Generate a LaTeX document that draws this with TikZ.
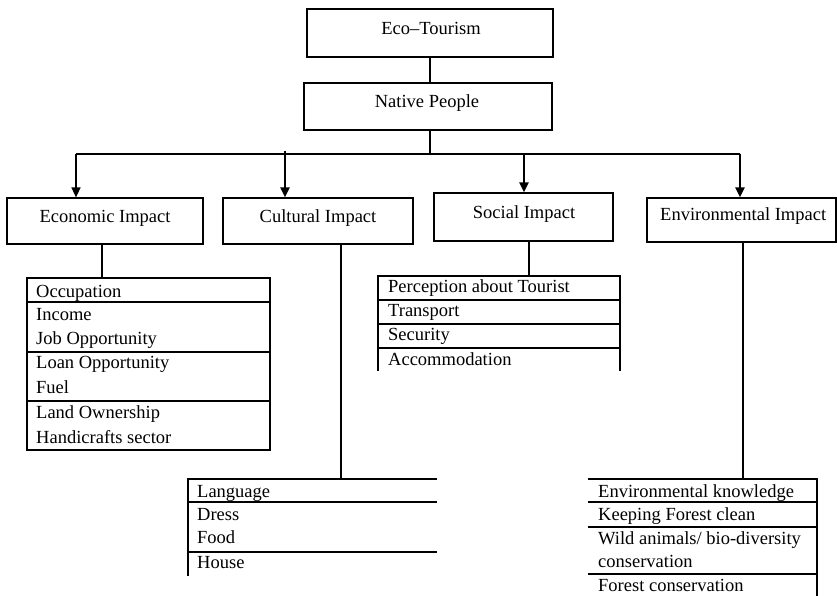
\documentclass[tikz,border=0pt]{standalone}
\usepackage{fontspec}
\setmainfont{Liberation Serif}
\usetikzlibrary{arrows.meta}
\begin{document}
\begin{tikzpicture}[x=1pt,y=-1pt,
  box/.style={draw,line width=1.2pt,rectangle,inner sep=0pt},
  txt/.style={inner sep=0pt,font=\fontsize{18.5}{22}\selectfont},
  ln/.style={line width=1.2pt},
  arr/.style={line width=2.2pt,-{Triangle[length=10pt,width=9pt]}},
  arrthin/.style={line width=1.4pt,-{Triangle[length=10pt,width=9pt]}}]
\useasboundingbox (0,0) rectangle (837,596);
% header boxes
\node[box,minimum width=246pt,minimum height=48pt] (eco) at (430,33) {};
\node[txt,anchor=base] (ecot) at (431,35) {Eco–Tourism};
\node[box,minimum width=248pt,minimum height=47pt] (nat) at (428,106.5) {};
\node[txt,anchor=base] (natt) at (427,108) {Native People};
\node[box,minimum width=196pt,minimum height=46pt] (econ) at (105,221) {};
\node[txt,anchor=base] (econt) at (105,222) {Economic Impact};
\node[box,minimum width=190pt,minimum height=46pt] (cult) at (318,221) {};
\node[txt,anchor=base] (cultt) at (318,222) {Cultural Impact};
\node[box,minimum width=179pt,minimum height=48pt] (soc) at (523.5,217) {};
\node[txt,anchor=base] (soct) at (524,218) {Social Impact};
\node[box,minimum width=189pt,minimum height=44pt] (env) at (741.5,220) {};
\node[txt,anchor=base west] (envt) at (660,220) {Environmental Impact};
% connectors
\draw[ln] (eco) -- (eco |- nat.north);
\coordinate (busL) at (76,154);
\coordinate (busR) at (740,154);
\coordinate (a2) at (285,151);
\coordinate (a3) at (524,153);
\draw[ln] (nat.south -| eco) -- (eco |- busL);
\draw[ln] (busL) -- (busR);
\draw[arrthin] (busL) -- (busL |- econ.north);
\draw[arr] (a2) -- (a2 |- cult.north);
\draw[arr] (a3) -- (a3 |- soc.north);
\draw[arr] (busR) -- (busR |- env.north);
% economic list
\coordinate (el) at (102,278);
\draw[ln] (el |- econ.south) -- (el);
\draw[ln] (27,278) rectangle (270,450);
\draw[ln] (27,302) -- (270,302);
\draw[ln] (27,352) -- (270,352);
\draw[ln] (27,401) -- (270,401);
\node[txt,anchor=base west] (e1) at (36,297) {Occupation};
\node[txt,anchor=base west] (e2) at (36,320) {Income};
\node[txt,anchor=base west] (e3) at (36,344) {Job Opportunity};
\node[txt,anchor=base west] (e4) at (36,368) {Loan Opportunity};
\node[txt,anchor=base west] (e5) at (36,393) {Fuel};
\node[txt,anchor=base west] (e6) at (36,418) {Land Ownership};
\node[txt,anchor=base west] (e7) at (36,443) {Handicrafts sector};
% social list
\coordinate (sl) at (529,276);
\draw[ln] (sl |- soc.south) -- (sl);
\draw[ln] (378,371) -- (378,276) -- (620,276) -- (620,371);
\draw[ln] (378,300) -- (620,300);
\draw[ln] (378,324) -- (620,324);
\draw[ln] (378,348) -- (620,348);
\node[txt,anchor=base west] (s1) at (388,292) {Perception about Tourist};
\node[txt,anchor=base west] (s2) at (388,316) {Transport};
\node[txt,anchor=base west] (s3) at (388,340) {Security};
\node[txt,anchor=base west] (s4) at (388,365) {Accommodation};
% cultural list
\coordinate (cl) at (341,479);
\draw[ln] (cl |- cult.south) -- (cl);
\draw[ln] (437,479) -- (188,479) -- (188,576);
\draw[ln] (188,502) -- (437,502);
\draw[ln] (188,552) -- (437,552);
\node[txt,anchor=base west] (c1) at (197,497) {Language};
\node[txt,anchor=base west] (c2) at (197,520) {Dress};
\node[txt,anchor=base west] (c3) at (197,543) {Food};
\node[txt,anchor=base west] (c4) at (197,568) {House};
% environmental list
\coordinate (vl) at (743,479);
\draw[ln] (vl |- env.south) -- (vl);
\draw[ln] (588,479) -- (817,479) -- (817,597);
\draw[ln] (588,502) -- (817,502);
\draw[ln] (588,527) -- (817,527);
\draw[ln] (588,574) -- (817,574);
\node[txt,anchor=base west] (v1) at (598,497) {Environmental knowledge};
\node[txt,anchor=base west] (v2) at (598,520) {Keeping Forest clean};
\node[txt,anchor=base west] (v3) at (598,544) {Wild animals/ bio-diversity};
\node[txt,anchor=base west] (v4) at (598,567) {conservation};
\node[txt,anchor=base west] (v5) at (598,591) {Forest conservation};
\end{tikzpicture}
\end{document}
